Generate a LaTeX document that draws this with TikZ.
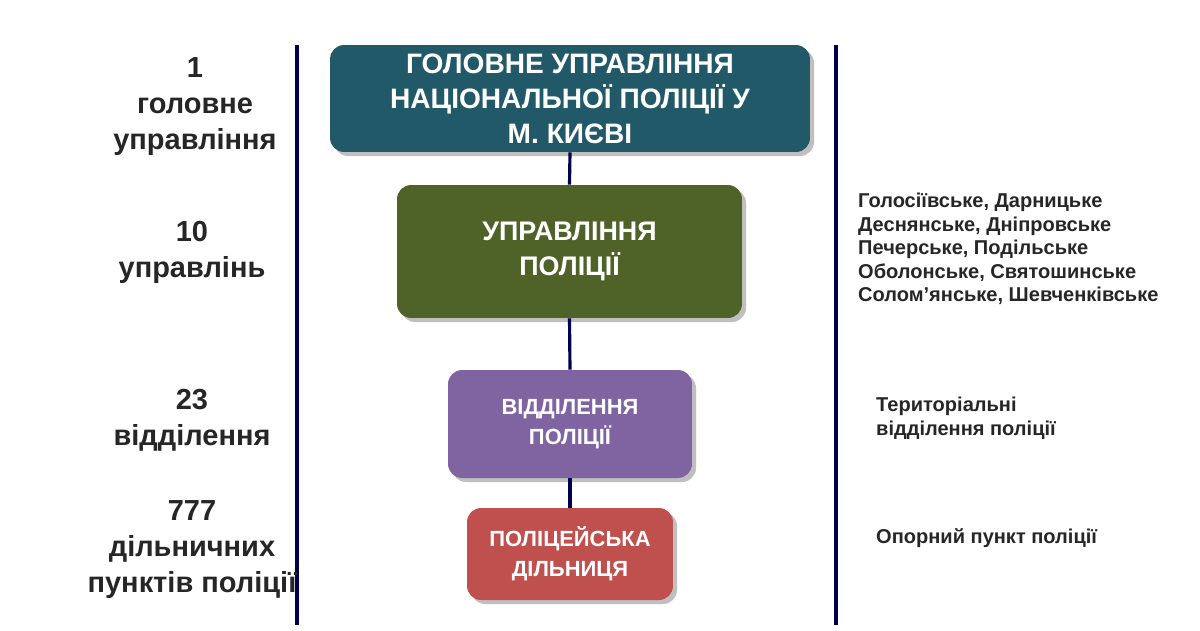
\documentclass[tikz,border=0pt]{standalone}
\usepackage{fontspec}
\setmainfont{Liberation Sans}
\begin{document}
\begin{tikzpicture}[x=0.02cm,y=-0.02cm,
  box/.style={rounded corners=8pt,draw=none,text=white,font=\bfseries,align=center,inner sep=0pt},
  lab/.style={font=\bfseries\fontsize{16.5}{20.5}\selectfont,text=black!85,align=center},
  rlab/.style={font=\bfseries\fontsize{11.4}{13.4}\selectfont,text=black!85,align=left,anchor=west},
  ln/.style={draw=blue!30!black,line width=1.8pt}]
\useasboundingbox (0,0) rectangle (1200,630);
\fill[white] (0,0) rectangle (1200,630);
\draw[ln] (297,45) -- (297,625);
\draw[ln] (836,45) -- (836,625);
\fill[black!25,rounded corners=8pt] (334,49) rectangle (814,156);
\fill[black!25,rounded corners=8pt] (401,189) rectangle (746,322);
\fill[black!25,rounded corners=8pt] (452,374) rectangle (696,482);
\fill[black!25,rounded corners=8pt] (471,512) rectangle (677,604);
\node[box,fill={rgb,255:red,33;green,89;blue,104},minimum width=9.6cm,minimum height=2.14cm,font=\bfseries\fontsize{16}{20}\selectfont] (a) at (570,98.5) {ГОЛОВНЕ УПРАВЛІННЯ\\НАЦІОНАЛЬНОЇ ПОЛІЦІЇ У\\М. КИЄВІ};
\node[box,fill={rgb,255:red,79;green,98;blue,40},minimum width=6.9cm,minimum height=2.66cm,font=\bfseries\fontsize{15.3}{20}\selectfont] (b) at (569.5,251.5) {УПРАВЛІННЯ\\ПОЛІЦІЇ};
\node[box,fill={rgb,255:red,128;green,100;blue,162},minimum width=4.88cm,minimum height=2.16cm,font=\bfseries\fontsize{12.5}{17}\selectfont] (c) at (570,424) {ВІДДІЛЕННЯ\\ПОЛІЦІЇ};
\node[box,fill={rgb,255:red,192;green,80;blue,77},minimum width=4.12cm,minimum height=1.84cm,font=\bfseries\fontsize{12.5}{17}\selectfont] (d) at (570,554) {ПОЛІЦЕЙСЬКА\\ДІЛЬНИЦЯ};
\draw[ln] (a.south) -- (b.north);
\draw[ln] (b.south) -- (c.north);
\draw[ln] (c.south) -- (d.north);
\node[lab] (l1) at (195,107) {1\\головне\\управління};
\node[lab] (l2) at (192,252) {10\\управлінь};
\node[lab] (l3) at (192,420) {23\\відділення};
\node[lab] (l4) at (192,550) {777\\дільничних\\пунктів поліції};
\node[rlab] (r1) at (852,249) {Голосіївське, Дарницьке\\Деснянське, Дніпровське\\Печерське, Подільське\\Оболонське, Святошинське\\Солом'янське, Шевченківське};
\node[rlab] (r2) at (870,418) {Територіальні\\відділення поліції};
\node[rlab] (r3) at (870,538) {Опорний пункт поліції};
\end{tikzpicture}
\end{document}
